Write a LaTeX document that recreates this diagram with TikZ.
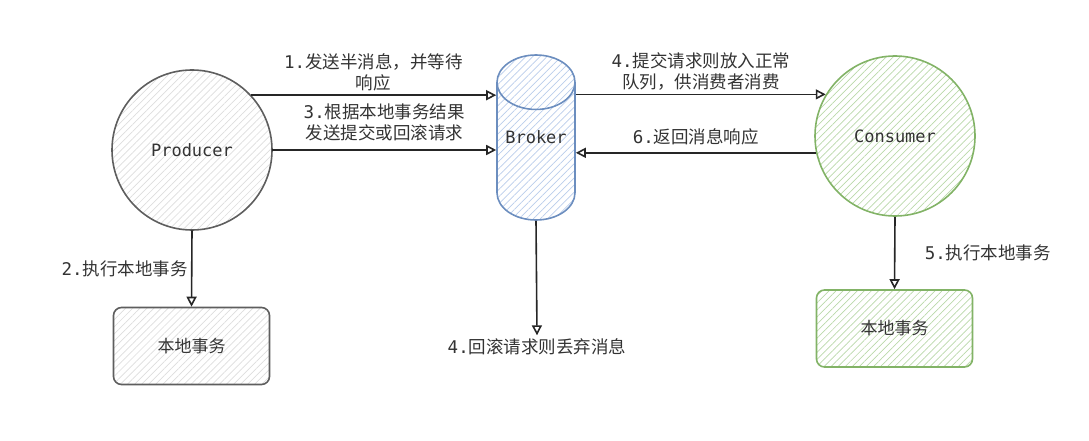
\documentclass[tikz,border=0pt]{standalone}
\usepackage{fontspec}
\setmainfont{Noto Sans CJK SC}
\newfontfamily\monofont{DejaVu Sans Mono}
\usepackage{xcolor}
\definecolor{cText}{HTML}{333333}
\definecolor{cGray}{HTML}{5E5E5E}
\definecolor{cGrayFill}{HTML}{DDDDDD}
\definecolor{cBlue}{HTML}{6C8EBF}
\definecolor{cBlueFill}{HTML}{BACDEB}
\definecolor{cGreen}{HTML}{82B366}
\definecolor{cGreenFill}{HTML}{B9D8A9}
\usepackage{tikz}
\usetikzlibrary{positioning,arrows.meta,shapes.geometric,patterns.meta}
\newcommand{\stepno}[1]{{\monofont #1.}}
\tikzset{
  hatch/.style={pattern={Lines[angle=45,distance=5pt,line width=0.7pt]},pattern color=#1},
  name-text/.style={font=\monofont\fontsize{17}{20}\selectfont,text=cText},
  node-actor/.style={circle,line width=1.6pt,minimum size=160pt,name-text},
  node-queue/.style={cylinder,shape border rotate=90,aspect=0.8,line width=1.6pt,
    minimum width=78pt,minimum height=165pt,anchor=shape center,name-text},
  node-local/.style={rounded corners=8pt,line width=1.6pt,
    minimum width=156pt,minimum height=77pt,
    font=\fontsize{17}{20}\selectfont,text=cText},
  node-gray/.style={draw=cGray,hatch=cGrayFill},
  node-blue/.style={draw=cBlue,hatch=cBlueFill},
  node-green/.style={draw=cGreen,hatch=cGreenFill},
  label-text/.style={font=\fontsize{17.5}{21}\selectfont,text=cText,align=center},
  arrow/.style={-{Triangle[open,length=10pt,width=10pt]},line width=1.6pt,draw=black!85},
}
\begin{document}
\begin{tikzpicture}[x=1pt,y=-1pt]
  \useasboundingbox (0,0) rectangle (1089,441);
  \node[node-actor,node-gray]  (prod)   at (192,150)   {Producer};
  \node[node-queue,node-blue]  (broker) at (536,137.5) {\phantom{Broker}};
  \node[name-text]             (brokername) at (broker.shape center) {Broker};
  \node[node-actor,node-green] (cons)   at (895,136)   {Consumer};
  \node[node-local,node-gray]  (plocal) at (191.5,346) {本地事务};
  \node[node-local,node-green] (clocal) at (894.5,328.5) {本地事务};
  \node[label-text]            (drop)   at (537,347)   {\stepno{4}回滚请求则丢弃消息};
  \draw[arrow] (prod.43) -- (prod.43 -| broker.west)
    node[midway,above,label-text] (half) {\stepno{1}发送半消息，并等待\\响应};
  \draw[arrow] (prod.east) -- (prod.east -| broker.west)
    node[midway,above=5pt,label-text] (commit) {\stepno{3}根据本地事务结果\\发送提交或回滚请求};
  \draw[arrow] (broker.east |- cons.149) -- (cons.149)
    node[midway,above,label-text] (deliver) {\stepno{4}提交请求则放入正常\\队列，供消费者消费};
  \draw[arrow] (cons.192) -- (cons.192 -| broker.east)
    node[midway,above=4pt,label-text] (ack) {\stepno{6}返回消息响应};
  \draw[arrow] (prod.south) -- (plocal.north)
    node[midway,left,label-text] (ptx) {\stepno{2}执行本地事务};
  \draw[arrow] (cons.south) -- (clocal.north)
    node[midway,right=26pt,label-text] (ctx) {\stepno{5}执行本地事务};
  \draw[arrow] (broker.south) -- (drop.north);
\end{tikzpicture}
\end{document}
